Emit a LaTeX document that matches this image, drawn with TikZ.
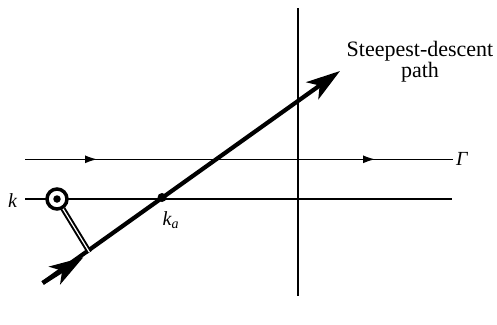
\documentclass[tikz,border=0pt]{standalone}
\usepackage{fontspec}
\setmainfont{Liberation Serif}
\usetikzlibrary{arrows.meta}
\begin{document}
\begin{tikzpicture}[x=1pt,y=-1pt,
  thinline/.style={line width=1.1pt},
  pathline/.style={line width=4.2pt},
  bighead/.style={-{Stealth[length=34pt,width=21pt,inset=9pt]}},
  smallhead/.style={-{Latex[length=12pt,width=8pt]}},
  lbl/.style={inner sep=0pt, font=\fontsize{20}{22}\selectfont\itshape}]
\useasboundingbox (0,0) rectangle (497,324);
% coordinates
\coordinate (gL) at (25,159.3);
\coordinate (gA1) at (97,159.3);
\coordinate (gA2) at (375,159.3);
\coordinate (gR) at (453,159.3);
\coordinate (kL) at (25,199);
\coordinate (kR) at (452,199);
\coordinate (vT) at (298,8);
\coordinate (vB) at (298,296);
\coordinate (tail) at (42.7,283);
\coordinate (midtip) at (83.3,257.3);
\coordinate (junc) at (89,251.5);
\coordinate (top) at (340,71);
% axes
\draw[thinline] (vT) -- (vB);
\draw[thinline] (kL) -- (kR);
% contour Gamma
\draw[thinline] (gL) -- (gR);
\draw[thinline,smallhead] (gL) -- (gA1);
\draw[thinline,smallhead] (gL) -- (gA2);
% steepest descent path
\draw[pathline,bighead] (tail) -- (top);
\draw[pathline,bighead] (tail) -- (midtip);
% saddle point
\node[circle, fill=black, inner sep=0pt, minimum size=9pt] (ka) at (162,197.5) {};
% pole with keyhole
\node[circle, draw, fill=white, line width=3.5pt, inner sep=0pt, minimum size=20pt] (pole) at (57,199) {};
\node[circle, fill=black, inner sep=0pt, minimum size=7.5pt] (poledot) at (57,199) {};
\draw[line width=2pt, double=white, double distance=1.2pt, shorten >=-1pt] (pole) -- (junc);
% labels
\node[lbl, anchor=base] (klbl) at (12.5,207) {k};
\node[lbl, anchor=base west] (Glbl) at (456,165.5) {Γ};
\node[lbl, anchor=base west] (kalbl) at (162.5,225.5) {k\textsubscript{a}};
\node[inner sep=0pt, anchor=north, align=center, font=\fontsize{22}{21.5}\selectfont] (sdlbl) at (420,41) {Steepest-descent\\path};
\end{tikzpicture}
\end{document}
